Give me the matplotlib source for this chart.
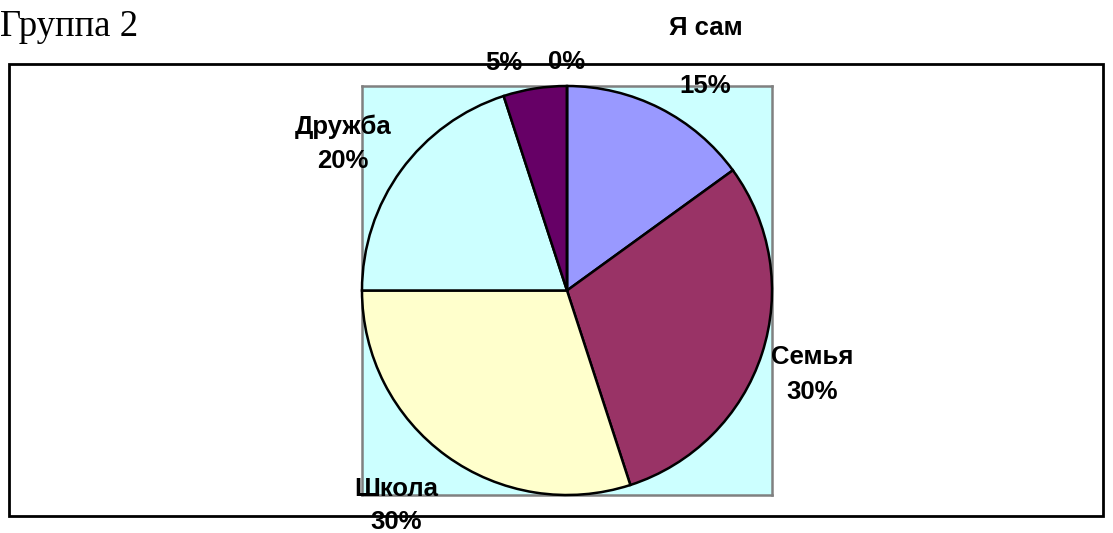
import matplotlib
matplotlib.use("Agg")
import matplotlib.pyplot as plt
from matplotlib.patches import Rectangle

W, H = 1113, 533
title = "Группа 2"
categories = ["Я сам", "Семья", "Школа", "Дружба", "", ""]
values = [15, 30, 30, 20, 5, 0]
colors = ["#9999FF", "#993366", "#FFFFCC", "#CCFFFF", "#660066", "#FF8080"]

fig = plt.figure(figsize=(W / 100, H / 100), dpi=100)
fig.patch.set_facecolor("white")

def fx(x):
    return x / W

def fy(y):
    return 1 - y / H

# outer chart frame
fig.patches.append(Rectangle((fx(9), fy(516)), fx(1103) - fx(9), fy(64) - fy(516),
                             transform=fig.transFigure, fill=False,
                             edgecolor="black", linewidth=2, zorder=0))

# plot area
px0, px1, py0, py1 = 362, 772, 86, 495
ax = fig.add_axes([fx(px0), fy(py1), fx(px1) - fx(px0), fy(py0) - fy(py1)])

wedges, _ = ax.pie(values, startangle=90, counterclock=False, colors=colors,
                   radius=1.0,
                   wedgeprops=dict(edgecolor="black", linewidth=1.8, zorder=3))
ax.set_frame_on(True)
ax.axis("on")
ax.set_facecolor("#CCFFFF")
for s in ax.spines.values():
    s.set_visible(True)
    s.set_edgecolor("#808080")
    s.set_linewidth(1.8)
    s.set_zorder(1)
ax.set_xticks([])
ax.set_yticks([])
ax.set_xlim(-1.0, 1.0)
ax.set_ylim(-1.0, 1.0)
ax.set_aspect("auto")

fig.text(0, fy(36), title, fontsize=26.5, family="Liberation Serif",
         ha="left", va="baseline")

pct = [f"{v}%" for v in values]
lab_font = dict(fontsize=18.5, family="Liberation Sans", fontweight="bold",
                ha="center", va="center")
# (name position, percent position) in pixels
label_pos = [((706, 28), (705, 86)),
             ((812, 357), (812, 392)),
             ((396, 489), (396, 522)),
             ((343, 127), (343, 161)),
             (None, (504, 63)),
             (None, (567, 62))]
for name, p, (npos, ppos) in zip(categories, pct, label_pos):
    if name and npos is not None:
        fig.text(fx(npos[0]), fy(npos[1]), name, **lab_font)
    fig.text(fx(ppos[0]), fy(ppos[1]), p, **lab_font)

fig.savefig("out.png", dpi=100)
